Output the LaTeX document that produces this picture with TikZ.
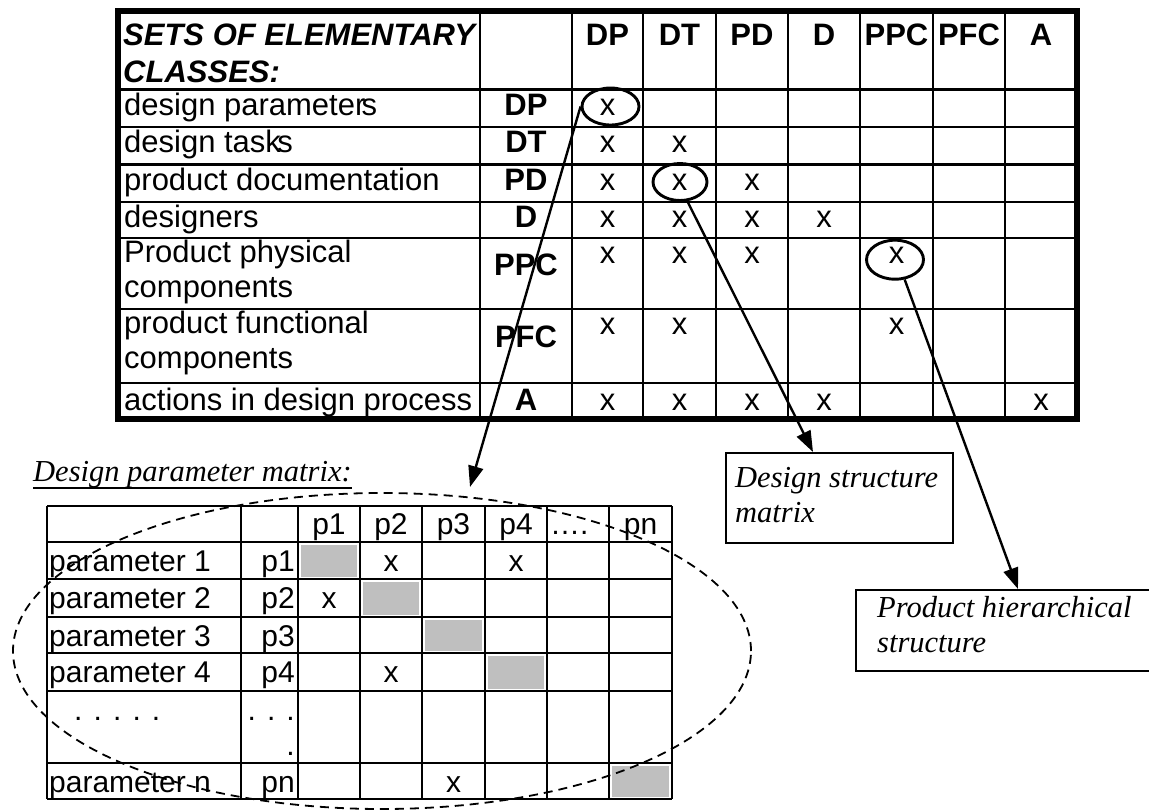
\documentclass[tikz,border=0pt]{standalone}
\usepackage{fontspec}
\setmainfont{Liberation Sans}
\newfontfamily\tms{Liberation Serif}
\usetikzlibrary{arrows.meta,shapes.geometric,calc}

\begin{document}
\begin{tikzpicture}[x=1pt,y=-1pt,
  tgrid/.style={line width=2.4pt},
  bgrid/.style={line width=2.1pt},
  tt/.style={inner sep=0pt, anchor=base, font=\fontsize{31}{36}\selectfont},
  ttl/.style={tt, anchor=base west},
  tth/.style={tt, font=\fontsize{31}{36}\selectfont\bfseries},
  bt/.style={inner sep=0pt, anchor=base, font=\fontsize{30}{35}\selectfont},
  btl/.style={bt, anchor=base west},
  btr/.style={bt, anchor=base east},
  lab/.style={inner sep=0pt, anchor=base west, font=\tms\itshape\fontsize{30.5}{35}\selectfont},
  ring/.style={draw, ellipse, line width=2.9pt, inner sep=0pt},
  arr/.style={line width=2.4pt, -{Triangle[length=21pt,width=15pt]}},
  box/.style={draw, line width=1.6pt, inner sep=0pt, anchor=north west},
  shade/.style={fill=black!25, draw=none}
]
\useasboundingbox (0,0) rectangle (1149,809);
\clip (0,0) rectangle (1149,809);

% ---------- sets of elementary classes ----------
\foreach \y in {89.3,126.7,164.3,201.7,237.7,309,383}
  \draw[tgrid] (118,\y) -- (1077,\y);
\foreach \x in {480,572,643,716,788,860,933,1005}
  \draw[tgrid] (\x,11) -- (\x,419);
\draw[line width=6pt] (118,11) rectangle (1077,419);

\node[ttl, font=\fontsize{31}{36}\selectfont\bfseries\itshape] (h1) at (123,45) {SETS OF ELEMENTARY};
\node[ttl, font=\fontsize{31}{36}\selectfont\bfseries\itshape] (h2) at (123,82) {CLASSES:};
\foreach \n/\x in {DP/607.5,DT/679.5,PD/752,D/824,PPC/896.5,PFC/969,A/1041}
  \node[tth] (col\n) at (\x,45) {\n};

\node[ttl] (r1) at (124,115) {design paramete{r}\kern-0.12em s};
\node[ttl] (r2) at (124,152.5) {design tas{k}\kern-0.12em s};
\node[ttl] (r3) at (124,190) {product documentation};
\node[ttl] (r4) at (124,227) {designers};
\node[ttl] (r5a) at (124,262) {Product physical};
\node[ttl] (r5b) at (124,297) {components};
\node[ttl] (r6a) at (124,333) {product functional};
\node[ttl] (r6b) at (124,368) {components};
\node[ttl] (r7) at (124,410) {actions in design process};

\node[tth] (k1) at (526,115) {DP};
\node[tth] (k2) at (526,152.5) {DT};
\node[tth] (k3) at (526,190) {PD};
\node[tth] (k4) at (526,227) {D};
\node[tth] (k5) at (526,275) {PPC};
\node[tth] (k6) at (526,347) {PFC};
\node[tth] (k7) at (526,410) {A};

% relation marks
\foreach \x/\y [count=\i] in {607.5/115,
  607.5/152.5,679.5/152.5,
  607.5/190,679.5/190,752/190,
  607.5/227,679.5/227,752/227,824/227,
  607.5/263,679.5/263,752/263,896.5/263,
  607.5/334,679.5/334,896.5/334,
  607.5/410,679.5/410,752/410,824/410,1041/410}
  \node[tt] (x\i) at (\x,\y) {x};

\node[ring, minimum width=57pt, minimum height=37pt] (c1) at (610.5,106.5) {};
\node[ring, minimum width=54pt, minimum height=37pt] (c2) at (680,182) {};
\node[ring, minimum width=57pt, minimum height=39pt] (c3) at (895,259.7) {};

% ---------- design parameter matrix ----------
\node[lab] (dpm) at (33,481) {Design parameter matrix:};
\draw[line width=1.5pt] ($(dpm.base west)+(0,7)$) -- ($(dpm.base east)+(0,7)$);

\fill[shade] (301,544.5) rectangle (357,577);
\fill[shade] (363,581.5) rectangle (419,615);
\fill[shade] (425,619.5) rectangle (482,651);
\fill[shade] (488,656) rectangle (544,688.5);
\fill[shade] (612,766) rectangle (669,797);

\foreach \y in {506,542,579,617,653.3,690.7,763.3,799.3}
  \draw[bgrid] (47,\y) -- (672,\y);
\foreach \x in {47,241,298,360,422,485,547,609,672}
  \draw[bgrid] (\x,506) -- (\x,799.3);

\foreach \n/\x in {p1/329,p2/391,p3/453.5,p4/516,pn/640.5}
  \node[bt] (hd\n) at (\x,534) {\n};
\node[btl] (hddots) at (550,534) {….};

\foreach \t/\s/\y [count=\i] in {parameter 1/p1/571,parameter 2/p2/608,parameter 3/p3/646,parameter 4/p4/682,parameter n/pn/792}{
  \node[btl] (pl\i) at (49,\y) {\t};
  \node[btr] (ps\i) at (295,\y) {\s};
}
\node[btl] (ldots) at (74,720) {. . . . .};
\node[btr] (sdots1) at (295,720) {. . .};
\node[btr] (sdots2) at (295,755) {.};

\foreach \x/\y [count=\i] in {391/571,516/571,329/608,391/682,453.5/792}
  \node[bt] (m\i) at (\x,\y) {x};

\draw[dash pattern=on 9pt off 6pt, line width=1.8pt] (382,651) ellipse [x radius=369pt, y radius=158pt];

% ---------- derived structures ----------
\node[box, minimum width=227pt, minimum height=90pt] (dsm) at (725,452) {};
\node[lab] (dsm1) at (735,487) {Design structure};
\node[lab] (dsm2) at (735,522) {matrix};

\node[box, minimum width=310pt, minimum height=81pt] (phs) at (855,589) {};
\node[lab] (phs1) at (877,617) {Product hierarchical};
\node[lab] (phs2) at (877,652) {structure};

\coordinate (in1) at (470,487);
\coordinate (in2) at (813,452);
\coordinate (in3) at (1018,589);
\draw[arr] (c1.west) -- (in1);
\draw[arr] (c2.-69) -- (in2);
\draw[arr] (c3.-64) -- (in3);
\end{tikzpicture}
\end{document}
